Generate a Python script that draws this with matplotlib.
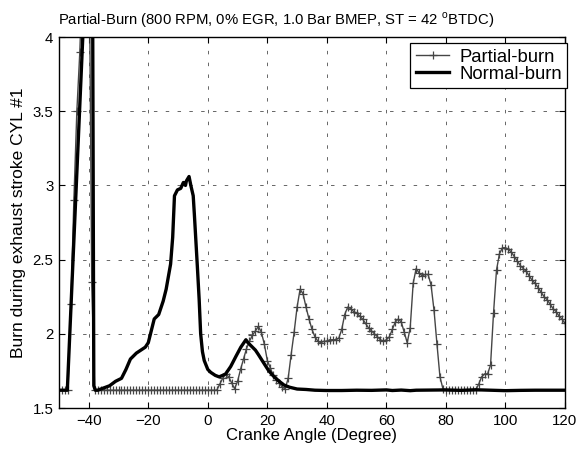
import numpy as np
import matplotlib
matplotlib.use("Agg")
import matplotlib.pyplot as plt

plt.rcParams['font.family'] = ['Liberation Sans', 'DejaVu Sans']
plt.rcParams['mathtext.fontset'] = 'custom'
plt.rcParams['mathtext.rm'] = 'Liberation Sans'
plt.rcParams['lines.scale_dashes'] = False

# Partial-burn trace (crank angle in degrees, one sample per degree)
partial_ca = np.arange(-49, 121)
partial_burn = [
    1.62, 1.62, 1.62, 2.20, 2.90, 3.50, 3.90, 4.50, 5.00, 5.00,      # -49..-40
    2.35, 1.62, 1.62, 1.62, 1.62, 1.62, 1.62, 1.62, 1.62, 1.62,      # -39..-30
    1.62, 1.62, 1.62, 1.62, 1.62, 1.62, 1.62, 1.62, 1.62, 1.62,      # -29..-20
    1.62, 1.62, 1.62, 1.62, 1.62, 1.62, 1.62, 1.62, 1.62, 1.62,      # -19..-10
    1.62, 1.62, 1.62, 1.62, 1.62, 1.62, 1.62, 1.62, 1.62, 1.62,      # -9..0
    1.62, 1.62, 1.62, 1.66, 1.70, 1.73, 1.71, 1.67, 1.63, 1.68,      # 1..10
    1.76, 1.83, 1.90, 1.95, 1.99, 2.02, 2.05, 2.01, 1.93, 1.82,      # 11..20
    1.77, 1.72, 1.69, 1.67, 1.64, 1.63, 1.70, 1.86, 2.01, 2.18,      # 21..30
    2.30, 2.27, 2.18, 2.10, 2.03, 1.98, 1.95, 1.94, 1.95, 1.95,      # 31..40
    1.96, 1.96, 1.96, 1.97, 2.03, 2.13, 2.18, 2.17, 2.15, 2.14,      # 41..50
    2.12, 2.10, 2.07, 2.04, 2.02, 2.00, 1.98, 1.96, 1.95, 1.96,      # 51..60
    1.98, 2.03, 2.08, 2.10, 2.08, 2.01, 1.94, 2.04, 2.34, 2.44,      # 61..70
    2.41, 2.39, 2.40, 2.40, 2.33, 2.16, 1.93, 1.71, 1.63, 1.62,      # 71..80
    1.62, 1.62, 1.62, 1.62, 1.62, 1.62, 1.62, 1.62, 1.62, 1.62,      # 81..90
    1.66, 1.71, 1.73, 1.73, 1.79, 2.14, 2.43, 2.54, 2.58, 2.58,      # 91..100
    2.57, 2.55, 2.52, 2.49, 2.46, 2.44, 2.42, 2.39, 2.36, 2.34,      # 101..110
    2.31, 2.28, 2.25, 2.23, 2.20, 2.17, 2.15, 2.12, 2.10, 2.07,      # 111..120
]

# Normal-burn trace
normal_ca = [-50, -47.2, -42, -41.5, -39, -38.7, -38.3, -37.8, -37, -35, -33, -31,
             -29, -27.5, -26, -24, -22.5, -21, -20, -19, -18, -16.5, -15, -14,
             -12.5, -11.8, -11.2, -10.2, -9.1, -8.2, -7.5, -7.2, -6.3, -5.7, -4.9,
             -4.5, -3.5, -2.9, -2.4, -1.8, -1.2, 0, 1, 2.5, 3.8, 5, 6, 7.7, 9.5,
             11.1, 12.8, 13.5, 14.5, 16, 17, 18.9, 20.5, 22.3, 24, 25.6, 27.5, 30,
             33, 36, 40, 45, 50, 55, 60, 62, 65, 68, 70, 75, 80, 85, 90, 95, 100,
             105, 110, 115, 120]
normal_burn = [1.62, 1.62, 4.0, 4.5, 4.5, 4.3, 1.65, 1.62, 1.62, 1.635, 1.65, 1.68,
               1.70, 1.76, 1.83, 1.87, 1.89, 1.91, 1.94, 2.02, 2.10, 2.13, 2.22, 2.30,
               2.47, 2.65, 2.93, 2.97, 2.98, 3.02, 3.00, 3.03, 3.06, 3.00, 2.93,
               2.80, 2.45, 2.23, 2.00, 1.88, 1.82, 1.76, 1.74, 1.72, 1.71, 1.72, 1.73,
               1.78, 1.85, 1.91, 1.96, 1.94, 1.92, 1.89, 1.86, 1.80, 1.75, 1.71, 1.68,
               1.655, 1.64, 1.628, 1.625, 1.62, 1.618, 1.618, 1.62, 1.619, 1.622,
               1.618, 1.621, 1.617, 1.62, 1.621, 1.622, 1.619, 1.623, 1.62, 1.617,
               1.619, 1.62, 1.62, 1.62]

xticks = [-40, -20, 0, 20, 40, 60, 80, 100, 120]
yticks = [1.5, 2, 2.5, 3, 3.5, 4]
ytick_labels = ["1.5", "2", "2.5", "3", "3.5", "4"]

fig = plt.figure(figsize=(5.84, 4.51), dpi=100)
ax = fig.add_axes([0.101, 0.0953, 0.8664, 0.8226])

ax.plot(partial_ca, partial_burn, color="#454545", lw=1.0, marker="+",
        ms=6, mew=0.9, label="Partial-burn")
ax.plot(normal_ca, normal_burn, color="black", lw=2.4, label="Normal-burn")

ax.set_xlim(-50, 120)
ax.set_ylim(1.5, 4)
ax.set_xticks(xticks)
ax.set_yticks(yticks)
ax.set_yticklabels(ytick_labels)
ax.tick_params(direction="in", top=True, right=True, length=4, width=0.8,
               labelsize=10.8, pad=4)
for s in ax.spines.values():
    s.set_linewidth(1.0)

ax.grid(True, color="0.3", lw=0.6, linestyle=(0, (2.5, 6)))

ax.set_title(r"Partial-Burn (800 RPM, 0% EGR, 1.0 Bar BMEP, ST = 42 $^{\mathrm{o}}$BTDC)",
             fontsize=10.7, pad=9, x=0.43)
ax.set_xlabel("Cranke Angle (Degree)", fontsize=12, labelpad=0)
ax.set_ylabel("Burn during exhaust stroke CYL #1", fontsize=12.5, labelpad=5)

leg = ax.legend(loc="upper right", bbox_to_anchor=(1.005, 0.984), borderaxespad=0,
                fancybox=False, edgecolor="black", framealpha=1, fontsize=13.3,
                handlelength=1.8, handletextpad=0.55, borderpad=0.3,
                labelspacing=0.02)
leg.get_frame().set_linewidth(0.9)

fig.savefig("out.png", dpi=100)
